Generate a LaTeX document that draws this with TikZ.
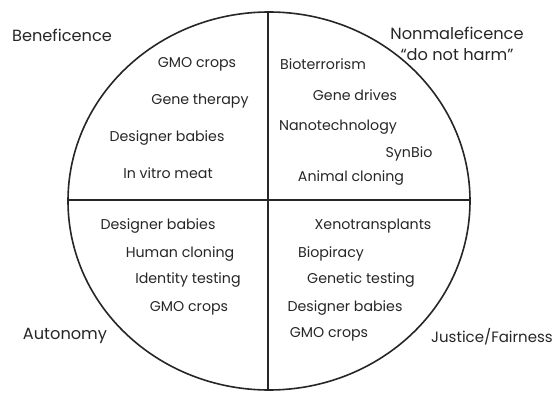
\documentclass[tikz,border=0pt]{standalone}
\usepackage{fontspec}
\setmainfont{Poppins}
\begin{document}
\begin{tikzpicture}[x=1pt,y=-1pt,
  item/.style={inner sep=0pt,font=\fontsize{14.2}{16}\selectfont,text=black!85,yshift=-1.5pt},
  head/.style={inner sep=0pt,font=\fontsize{16.2}{21}\selectfont,text=black!85,align=center,yshift=-1pt}]
\useasboundingbox (0,0) rectangle (555,393);
\coordinate (c) at (269,201);
\draw[line width=1.6pt,black!85] (c) ellipse [x radius=201pt, y radius=189pt];
\coordinate (top) at (268,12);
\coordinate (bot) at (268,390);
\coordinate (lft) at (68,200);
\coordinate (rgt) at (470,200);
\draw[line width=1.3pt,black!85] (top) -- (bot);
\draw[line width=1.3pt,black!85] (lft) -- (rgt);
% headings
\node[head,anchor=center] (ben) at (62,34) {Beneficence};
\node[head] (non) at (457,43) {Nonmaleficence\\“do not harm”};
\node[head] (aut) at (65,335) {Autonomy};
\node[head,anchor=east,font=\fontsize{15}{17}\selectfont] (jus) at (553,336) {Justice/Fairness};
% top-left
\node[item] (tl1) at (197,63) {GMO crops};
\node[item] (tl2) at (200,100) {Gene therapy};
\node[item] (tl3) at (167,137) {Designer babies};
\node[item] (tl4) at (168,172) {In vitro meat};
% top-right
\node[item] (tr1) at (323,63) {Bioterrorism};
\node[item] (tr2) at (355,94) {Gene drives};
\node[item] (tr3) at (338,126) {Nanotechnology};
\node[item] (tr4) at (409,152) {SynBio};
\node[item] (tr5) at (351,177) {Animal cloning};
% bottom-left
\node[item] (bl1) at (158,225) {Designer babies};
\node[item] (bl2) at (180,253) {Human cloning};
\node[item] (bl3) at (188,279) {Identity testing};
\node[item] (bl4) at (189,307) {GMO crops};
% bottom-right
\node[item] (br1) at (373,225) {Xenotransplants};
\node[item] (br2) at (331,252) {Biopiracy};
\node[item] (br3) at (361,279) {Genetic testing};
\node[item] (br4) at (345,307) {Designer babies};
\node[item] (br5) at (329,333) {GMO crops};
\end{tikzpicture}
\end{document}
